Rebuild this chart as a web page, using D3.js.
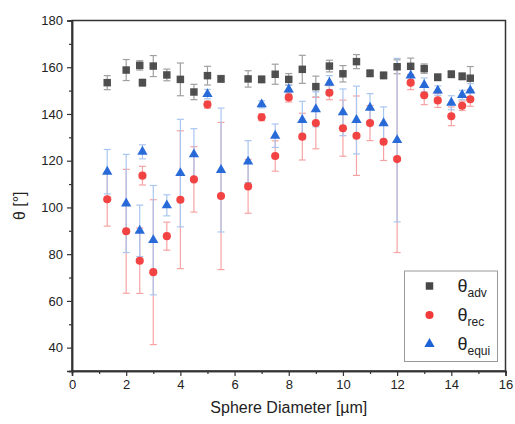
<!DOCTYPE html>
<html>
<head>
<meta charset="utf-8">
<script src="https://cdn.jsdelivr.net/npm/d3@7"></script>
<style>
  body { margin: 0; background: #fff; }
  svg { font-family: "Liberation Sans", Arial, sans-serif; }
</style>
</head>
<body>
<div id="chart"></div>
<script>
// sphere diameters (µm)
const diameters = [1.3, 2.0, 2.5, 2.6, 3.0, 3.5, 4.0, 4.5, 5.0, 5.5, 6.5, 7.0, 7.5, 8.0,
                   8.5, 9.0, 9.5, 10.0, 10.5, 11.0, 11.5, 12.0, 12.5, 13.0, 13.5, 14.0, 14.4, 14.7];
// advancing angle
const advMean = [153.4, 158.8, 160.8, 153.4, 160.5, 156.7, 154.8, 149.4, 156.4, 155.0, 155.0, 154.8, 157.0, 154.8,
                 159.1, 151.7, 160.5, 157.2, 162.4, 157.4, 156.5, 160.2, 160.4, 159.4, 155.7, 157.0, 156.1, 155.3];
const advErr  = [3, 4.5, 2, 1.5, 4.5, 2.5, 7, 3.3, 4, 1.5, 3.5, 1.5, 4.3, 2.5,
                 6, 4.5, 2.5, 3.5, 3, 1.5, 1.5, 3, 3.5, 2, 1.5, 1.5, 1.5, 5];
// receding angle
const recMean = [103.5, 89.8, 77.2, 113.6, 72.3, 87.7, 103.3, 112.0, 144.0, 104.9, 109.0, 138.6, 122.0, 147.1,
                 130.3, 136.1, 149.1, 133.9, 130.7, 136.1, 128.1, 120.7, 153.4, 148.0, 145.8, 139.0, 143.5, 146.3];
const recErr  = [11.5, 26.5, 14, 4, 31, 6, 29.5, 14, 1.5, 31.5, 11.5, 1.5, 6.5, 2,
                 10, 11, 3, 12, 17, 7.5, 8, 40, 3, 4, 3, 4, 2, 3];
// equilibrium angle
const equiMean = [115.3, 101.7, 90.0, 123.8, 86.0, 100.9, 114.7, 122.7, 148.5, 116.0, 119.6, 144.1, 130.7, 150.5,
                  137.4, 142.0, 153.4, 140.7, 137.4, 142.7, 136.0, 128.8, 156.4, 152.4, 150.0, 144.8, 148.1, 150.0];
const equiErr  = [9.5, 21, 11, 3, 23.4, 4.5, 23, 11, 2, 26.5, 9, 1.5, 5, 2,
                  8, 7.5, 3, 10, 14.5, 6, 7, 35, 3, 3, 2, 3, 2, 3];

const W = 515, H = 424;
const margin = { top: 20.5, right: 9.5, bottom: 53, left: 72 };
const iw = W - margin.left - margin.right, ih = H - margin.top - margin.bottom;

const series = [
  { key: 'adv',  mean: advMean,  err: advErr,  color: '#474747', errColor: '#a0a0a0', shape: d3.symbolSquare,   size: 56 },
  { key: 'rec',  mean: recMean,  err: recErr,  color: '#f23a3a', errColor: '#f7a3a3', shape: d3.symbolCircle,   size: 52 },
  { key: 'equi', mean: equiMean, err: equiErr, color: '#1e63d6', errColor: '#a9c6f0', shape: d3.symbolTriangle, size: 46 }
];

const svg = d3.select('#chart').append('svg').attr('width', W).attr('height', H);
const g = svg.append('g').attr('transform', `translate(${margin.left},${margin.top})`);

const x = d3.scaleLinear().domain([0, 16]).range([0, iw]);
const y = d3.scaleLinear().domain([30, 180]).range([ih, 0]);

/* frame */
g.append('rect').attr('width', iw).attr('height', ih)
  .attr('fill', 'none').attr('stroke', '#333').attr('stroke-width', 1.5);

/* axes: major + minor ticks, outward */
const xAx = g.append('g').attr('transform', `translate(0,${ih})`)
  .call(d3.axisBottom(x).tickValues(d3.range(0, 17, 2)).tickSize(5).tickPadding(4));
g.append('g').attr('transform', `translate(0,${ih})`)
  .call(d3.axisBottom(x).tickValues(d3.range(1, 16, 2)).tickSize(3).tickFormat(''));
const yAx = g.append('g')
  .call(d3.axisLeft(y).tickValues(d3.range(40, 181, 20)).tickSize(5).tickPadding(4));
g.append('g')
  .call(d3.axisLeft(y).tickValues(d3.range(30, 180, 20)).tickSize(3).tickFormat(''));
g.selectAll('.domain').attr('stroke', '#333').attr('stroke-width', 1.5);
g.selectAll('.tick line').attr('stroke', '#333').attr('stroke-width', 1.2);
g.selectAll('.tick text').attr('font-size', 13).attr('fill', '#222');

/* axis titles */
svg.append('text').attr('x', margin.left + iw / 2).attr('y', 413)
  .attr('text-anchor', 'middle').attr('font-size', 16).attr('fill', '#222')
  .text('Sphere Diameter [µm]');
svg.append('text').attr('transform', `translate(25,${margin.top + ih / 2 + 10}) rotate(-90)`)
  .attr('text-anchor', 'middle').attr('font-size', 16).attr('fill', '#222')
  .text('θ [°]');

/* error bars behind markers */
const cap = 3.5;
series.forEach(s => {
  const eg = g.append('g').attr('stroke', s.errColor).attr('stroke-width', 1.2);
  diameters.forEach((d, i) => {
    const cx = x(d), y0 = y(s.mean[i] - s.err[i]), y1 = y(s.mean[i] + s.err[i]);
    eg.append('line').attr('x1', cx).attr('x2', cx).attr('y1', y0).attr('y2', y1);
    eg.append('line').attr('x1', cx - cap).attr('x2', cx + cap).attr('y1', y0).attr('y2', y0);
    eg.append('line').attr('x1', cx - cap).attr('x2', cx + cap).attr('y1', y1).attr('y2', y1);
  });
});

/* markers */
series.forEach(s => {
  g.append('g').selectAll('path').data(diameters).join('path')
    .attr('d', d3.symbol().type(s.shape).size(s.size))
    .attr('transform', (d, i) => `translate(${x(d)},${y(s.mean[i])})`)
    .attr('fill', s.color).attr('fill-opacity', 0.95);
});

/* legend */
const lg = svg.append('g').attr('transform', 'translate(404.5,271)');
lg.append('rect').attr('width', 93).attr('height', 90.5)
  .attr('fill', '#fff').attr('stroke', '#999').attr('stroke-width', 1);
series.forEach((s, i) => {
  const row = lg.append('g').attr('transform', `translate(0,${15 + i * 29})`);
  row.append('path').attr('d', d3.symbol().type(s.shape).size(s.size))
    .attr('transform', 'translate(25,0)').attr('fill', s.color);
  const t = row.append('text').attr('x', 53).attr('y', 6).attr('font-size', 18).attr('fill', '#222');
  t.append('tspan').text('θ');
  t.append('tspan').attr('font-size', 12).attr('dy', 5).text(s.key);
});
</script>
</body>
</html>
